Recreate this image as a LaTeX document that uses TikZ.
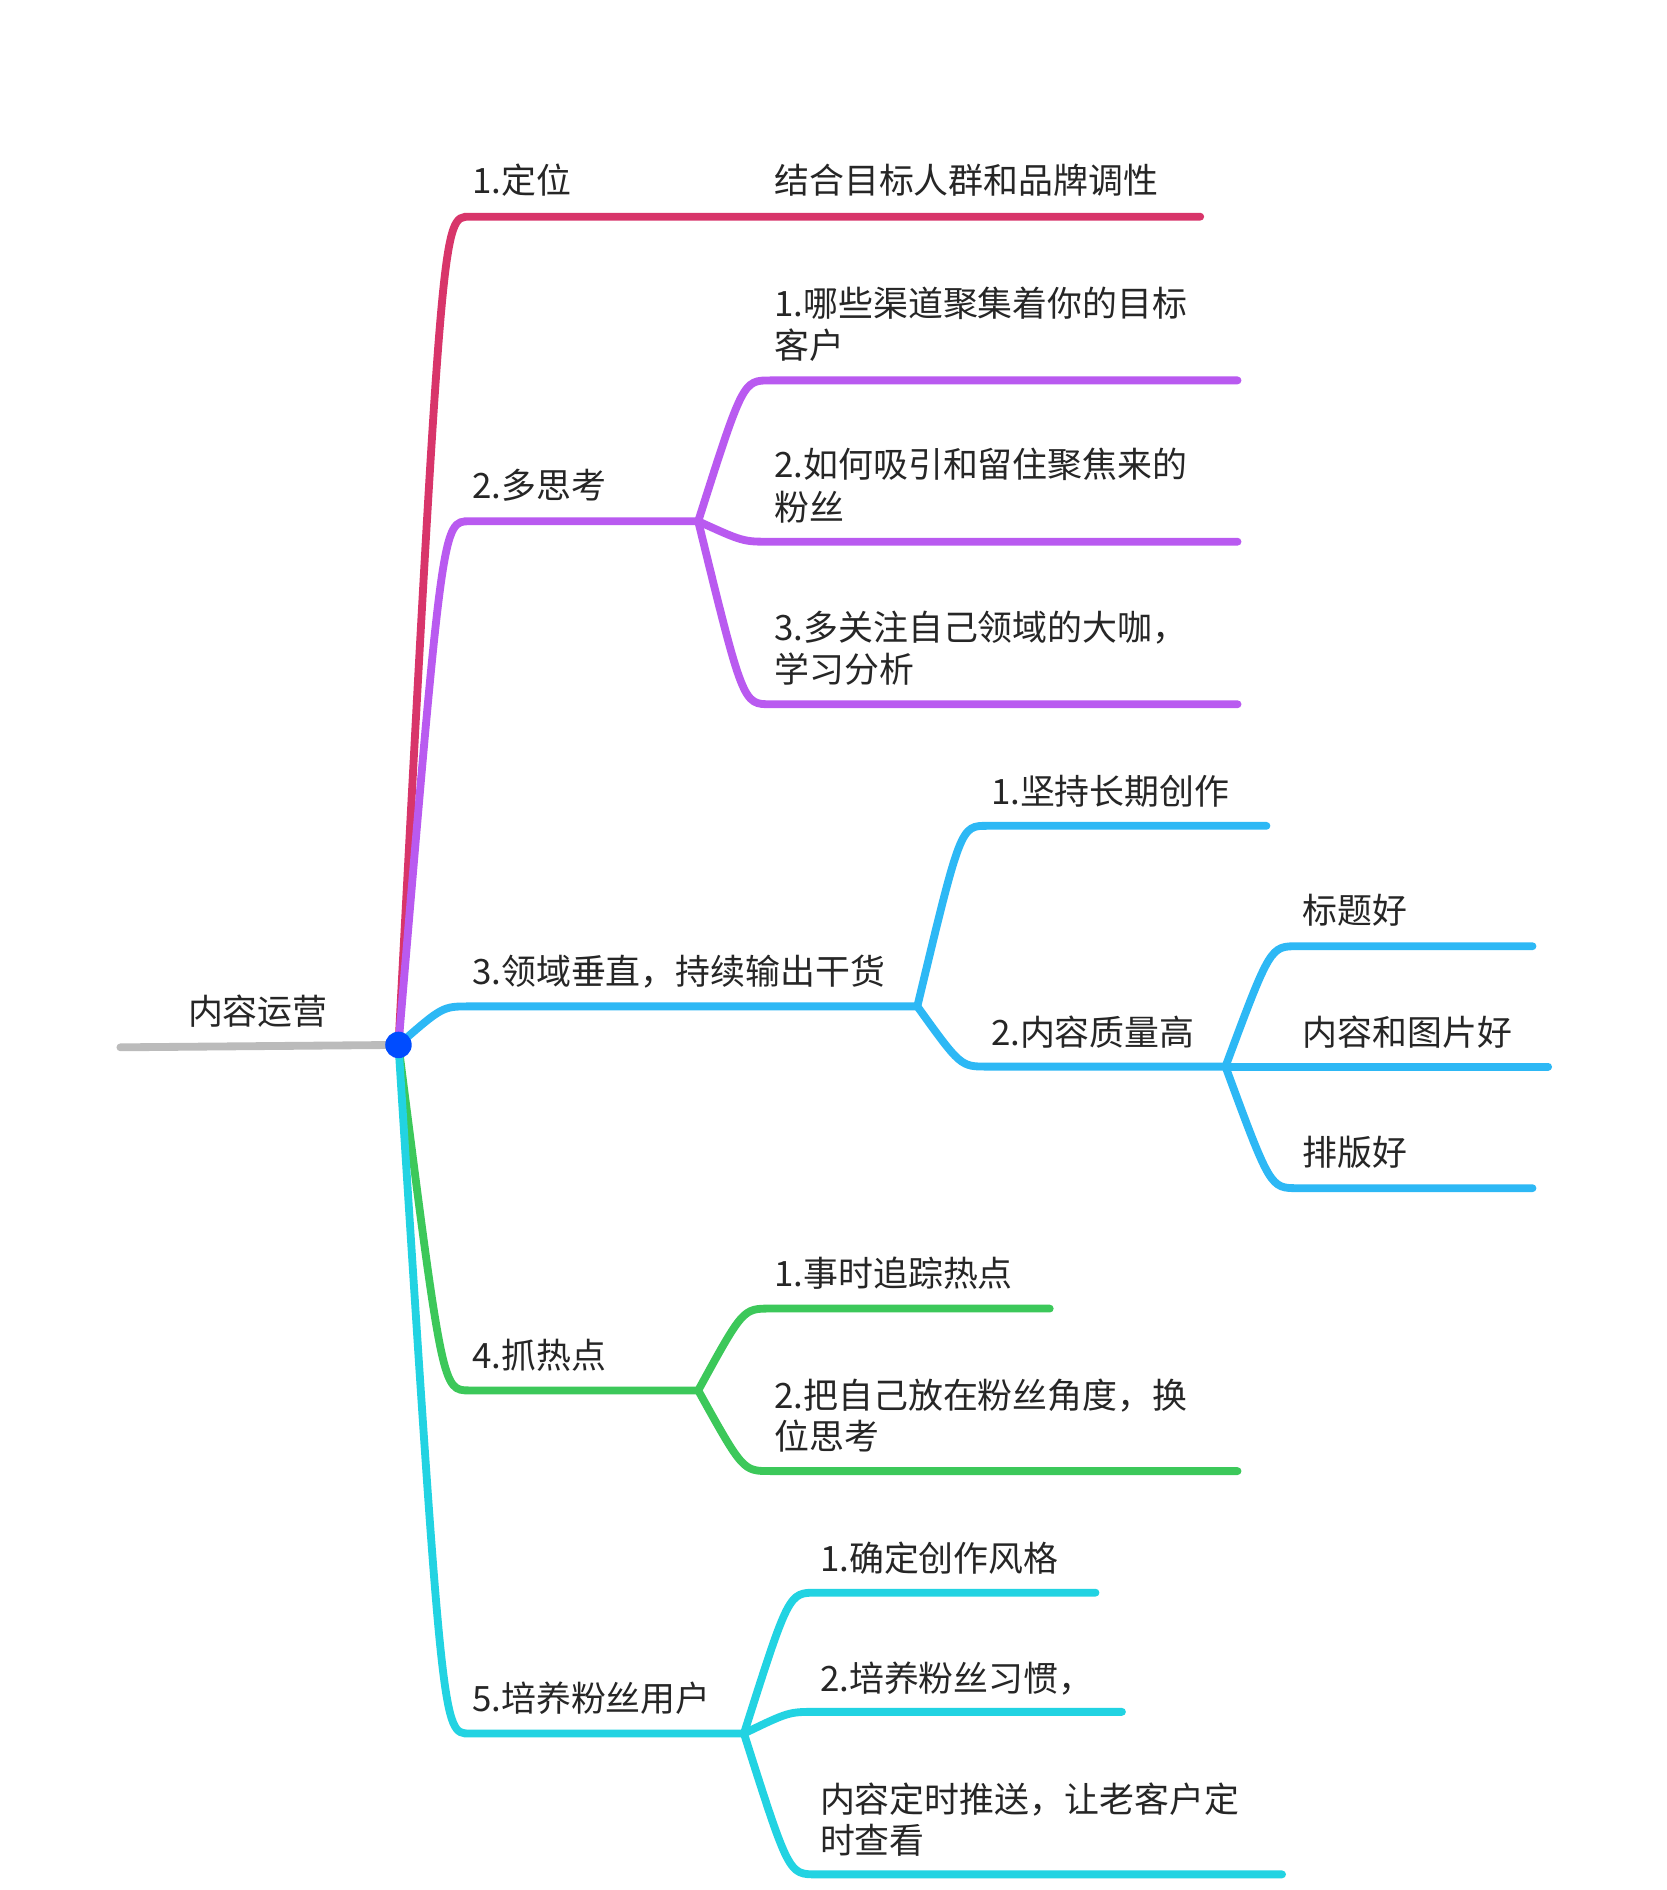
\documentclass[tikz,border=0pt]{standalone}
\usepackage{fontspec}
\setmainfont{Noto Sans CJK SC}
\begin{document}
\begin{tikzpicture}[x=1pt,y=-1pt,
  lbl/.style={anchor=west,inner sep=0pt,font=\fontsize{29}{36}\selectfont,text=black!85},
  br/.style={line width=6.5pt,line cap=round}]
\useasboundingbox[fill=white] (0,0) rectangle (1384,1570);
\definecolor{cR}{HTML}{D8356A}
\definecolor{cP}{HTML}{B95AF0}
\definecolor{cB}{HTML}{2DB8F5}
\definecolor{cG}{HTML}{3CC85A}
\definecolor{cC}{HTML}{22D3E2}
\definecolor{cGr}{HTML}{BBBBBB}
\newcommand\bra[6]{% color,x0,y0,x1,y1,xend
\pgfmathsetmacro\cx{#2+0.62*(#4-#2)}
\draw[br,#1] (#2,#3) .. controls (\cx,#5) and (\cx,#5) .. (#4,#5) -- (#6,#5);}
% root
\coordinate (root) at (331,868);
\draw[br,cGr] (100,870) -- (root);
\node[lbl] (rootl) at (156,840) {内容运营};
% branch 1
\bra{cR}{331}{868}{390}{180}{997}
\node[lbl] (b1) at (392,150) {1.定位};
\node[lbl] (b1a) at (643,150) {结合目标人群和品牌调性};
% branch 2
\bra{cP}{331}{868}{390}{433}{580}
\node[lbl] (b2) at (392,403) {2.多思考};
\bra{cP}{580}{433}{640}{316}{1028}
\bra{cP}{580}{433}{640}{450}{1028}
\bra{cP}{580}{433}{640}{585}{1028}
\node[lbl] (b2a) at (643,252) {1.哪些渠道聚集着你的目标};
\node[lbl] (b2a2) at (643,287) {客户};
\node[lbl] (b2b) at (643,386) {2.如何吸引和留住聚焦来的};
\node[lbl] (b2b2) at (643,421) {粉丝};
\node[lbl] (b2c) at (643,521) {3.多关注自己领域的大咖，};
\node[lbl] (b2c2) at (643,556) {学习分析};
% branch 3
\bra{cB}{331}{868}{390}{836}{762}
\node[lbl] (b3) at (392,807) {3.领域垂直，持续输出干货};
\bra{cB}{762}{836}{820}{686}{1052}
\bra{cB}{762}{836}{820}{886}{1018}
\node[lbl] (b3a) at (823,657) {1.坚持长期创作};
\node[lbl] (b3b) at (823,857) {2.内容质量高};
\bra{cB}{1018}{886}{1078}{786}{1273}
\bra{cB}{1018}{886}{1078}{886}{1286}
\bra{cB}{1018}{886}{1078}{987}{1273}
\node[lbl] (b3b1) at (1082,756) {标题好};
\node[lbl] (b3b2) at (1082,857) {内容和图片好};
\node[lbl] (b3b3) at (1082,957) {排版好};
% branch 4
\bra{cG}{331}{868}{390}{1155}{580}
\node[lbl] (b4) at (392,1126) {4.抓热点};
\bra{cG}{580}{1155}{640}{1087}{872}
\bra{cG}{580}{1155}{640}{1222}{1028}
\node[lbl] (b4a) at (643,1058) {1.事时追踪热点};
\node[lbl] (b4b) at (643,1159) {2.把自己放在粉丝角度，换};
\node[lbl] (b4b2) at (643,1193) {位思考};
% branch 5
\bra{cC}{331}{868}{390}{1440}{618}
\node[lbl] (b5) at (392,1411) {5.培养粉丝用户};
\bra{cC}{618}{1440}{678}{1323}{910}
\bra{cC}{618}{1440}{678}{1422}{932}
\bra{cC}{618}{1440}{678}{1557}{1065}
\node[lbl] (b5a) at (681,1294) {1.确定创作风格};
\node[lbl] (b5b) at (681,1394) {2.培养粉丝习惯，};
\node[lbl] (b5c) at (681,1495) {内容定时推送，让老客户定};
\node[lbl] (b5c2) at (681,1529) {时查看};
\fill[blue!70!cyan] (root) circle (11);
\end{tikzpicture}
\end{document}
